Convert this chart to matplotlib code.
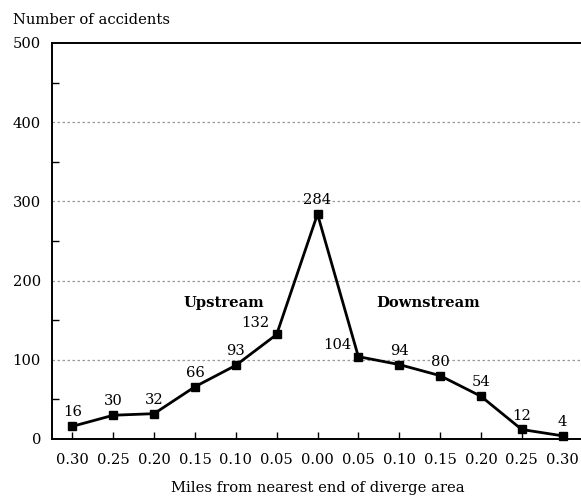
import matplotlib.pyplot as plt
from matplotlib.ticker import MultipleLocator

plt.rcParams['font.family'] = ['DejaVu Serif']

# distance from nearest end of diverge area (upstream -> downstream)
labels = ['0.30', '0.25', '0.20', '0.15', '0.10', '0.05', '0.00',
          '0.05', '0.10', '0.15', '0.20', '0.25', '0.30']
accidents = [16, 30, 32, 66, 93, 132, 284, 104, 94, 80, 54, 12, 4]

fs = 10.6

fig = plt.figure(figsize=(5.81, 5.0), dpi=100)
ax = fig.add_axes([52 / 581, 61 / 500, 531 / 581, 396 / 500])

x = list(range(len(accidents)))
ax.plot(x, accidents, color='black', lw=2, marker='s', ms=5.5, clip_on=False, zorder=3)

# value labels
for i, v in enumerate(accidents):
    if v in (132, 104):
        ax.annotate(str(v), (i, v), xytext=(-5, 3), textcoords='offset points',
                    ha='right', va='bottom', fontsize=fs)
    else:
        ax.annotate(str(v), (i, v), xytext=(0, 5), textcoords='offset points',
                    ha='center', va='bottom', fontsize=fs)

ax.text(3.7, 172, 'Upstream', ha='center', va='center', fontsize=fs, fontweight='bold')
ax.text(8.7, 172, 'Downstream', ha='center', va='center', fontsize=fs, fontweight='bold')

ax.set_xlim(-0.5, 12.5)
ax.set_ylim(0, 500)
ax.set_xticks(x)
ax.set_xticklabels(labels)
ax.set_yticks([0, 100, 200, 300, 400, 500])
ax.yaxis.set_minor_locator(MultipleLocator(50))
ax.tick_params(axis='both', which='both', direction='in', length=5, width=1, labelsize=fs)
ax.tick_params(axis='y', which='major', length=0, pad=8)
ax.tick_params(axis='x', pad=10)

for y in [100, 200, 300, 400]:
    ax.axhline(y, color='#999999', lw=0.9, ls=(0, (2, 2)), zorder=1)

ax.spines['right'].set_visible(False)
for s in ['left', 'top', 'bottom']:
    ax.spines[s].set_linewidth(1.4)

ax.set_xlabel('Miles from nearest end of diverge area', fontsize=fs, labelpad=10)
fig.text(13 / 581, 1 - 20 / 500, 'Number of accidents', fontsize=fs, va='center', ha='left')

plt.savefig('out.png', dpi=100)
